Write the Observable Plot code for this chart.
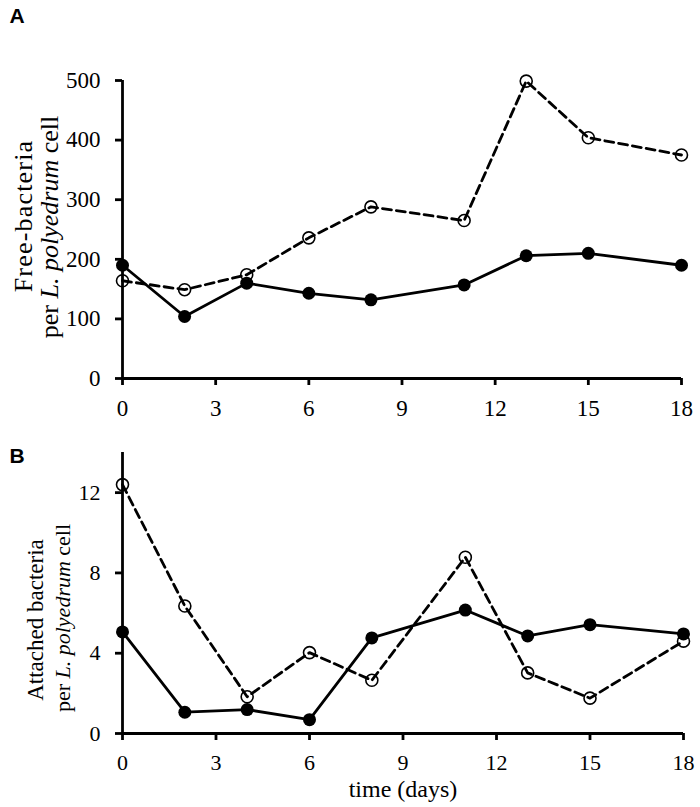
<!DOCTYPE html>
<html>
<head>
<meta charset="utf-8">
<script src="https://cdn.jsdelivr.net/npm/d3@7"></script>
<script src="https://cdn.jsdelivr.net/npm/@observablehq/plot@0.6"></script>
<style>
  html, body { margin: 0; padding: 0; background: #fff; }
  #chart svg { display: block; }
</style>
</head>
<body>
<div id="chart"></div>
<script>
// Data
const days = [0, 2, 4, 6, 8, 11, 13, 15, 18];
const freeFilled = [190, 104, 160, 143, 132, 157, 206, 210, 190];
const freeOpen = [164, 149, 174, 236, 288, 265, 499, 404, 375];
const attachedFilled = [5.06, 1.06, 1.19, 0.69, 4.76, 6.15, 4.86, 5.42, 4.96];
const attachedOpen = [12.4, 6.35, 1.83, 4.03, 2.65, 8.78, 3.02, 1.76, 4.6];
const xTicks = [0, 3, 6, 9, 12, 15, 18];
const yTicksA = [0, 100, 200, 300, 400, 500];
const yTicksB = [0, 4, 8, 12];

const serif = "'Liberation Serif', 'Times New Roman', serif";

function rows(values) { return days.map((d, i) => ({day: d, v: values[i]})); }

function panel({filled, open, yDomain, yTicks, height, marginTop, marginBottom, marginRight, fs}) {
  return Plot.plot({
    width: 700,
    height,
    marginLeft: 122,
    marginRight,
    marginTop,
    marginBottom,
    style: {fontFamily: serif, fontSize: fs + "px", color: "#000", background: "#fff"},
    x: {domain: [0, 18]},
    y: {domain: yDomain},
    marks: [
      Plot.axisX({ticks: xTicks, tickSize: 7, tickPadding: 14, strokeWidth: 2.8, label: null, fontSize: fs}),
      Plot.axisY({ticks: yTicks, tickSize: 7, tickPadding: 15, strokeWidth: 2.8, label: null, fontSize: fs}),
      Plot.ruleY([yDomain[0]], {stroke: "#000", strokeWidth: 2.8}),
      Plot.ruleX([0], {stroke: "#000", strokeWidth: 2.8}),
      Plot.line(rows(open), {x: "day", y: "v", stroke: "#000", strokeWidth: 2.8, strokeDasharray: "9,5"}),
      Plot.line(rows(filled), {x: "day", y: "v", stroke: "#000", strokeWidth: 2.8}),
      Plot.dot(rows(open), {x: "day", y: "v", r: 6, fill: "none", stroke: "#000", strokeWidth: 1.6}),
      Plot.dot(rows(filled), {x: "day", y: "v", r: 6.5, fill: "#000", stroke: "none"})
    ]
  });
}

const A = panel({filled: freeFilled, open: freeOpen, yDomain: [0, 500], yTicks: yTicksA,
  height: 430, marginTop: 80, marginBottom: 52, marginRight: 19, fs: 23});
const B = panel({filled: attachedFilled, open: attachedOpen, yDomain: [0, 14], yTicks: yTicksB,
  height: 377, marginTop: 22, marginBottom: 74, marginRight: 17, fs: 22});

function addTitle(svg, letter, letterY, fs, line1, lines) {
  const s = d3.select(svg);
  s.append("text").attr("x", 17).attr("y", letterY)
    .attr("font-family", "'Liberation Sans', Arial, sans-serif").attr("font-weight", "bold")
    .attr("font-size", 21).attr("fill", "#000").text(letter);
  s.append("text")
    .attr("transform", `translate(${line1.x},${line1.c}) rotate(-90)`)
    .attr("text-anchor", "middle").attr("font-family", serif).attr("font-size", line1.fs)
    .attr("letter-spacing", line1.ls).attr("fill", "#000")
    .text(line1.text);
  const t2 = s.append("text")
    .attr("transform", `translate(${lines.x},${lines.c}) rotate(-90)`)
    .attr("text-anchor", "middle").attr("font-family", serif).attr("font-size", fs).attr("fill", "#000");
  t2.append("tspan").text("per ");
  t2.append("tspan").attr("font-style", "italic").text("L. polyedrum");
  t2.append("tspan").text(" cell");
}

addTitle(A, "A", 23, 26, {x: 32, c: 216, text: "Free-bacteria", fs: 26, ls: 1.2}, {x: 58, c: 227});
addTitle(B, "B", 33, 22, {x: 43, c: 190, text: "Attached bacteria", fs: 23, ls: 0}, {x: 70, c: 188});

d3.select(B).append("text").attr("x", 403).attr("y", 367).attr("text-anchor", "middle")
  .attr("font-family", serif).attr("font-size", 24).attr("fill", "#000").text("time (days)");

const chart = document.getElementById("chart");
chart.appendChild(A);
chart.appendChild(B);
</script>
</body>
</html>
